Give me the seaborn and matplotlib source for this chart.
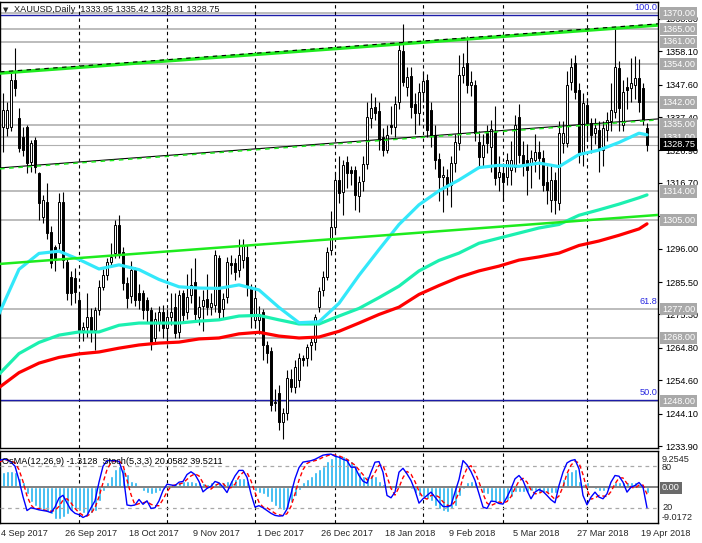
import numpy as np
import pandas as pd
import matplotlib
matplotlib.use("Agg")
import matplotlib.pyplot as plt
import matplotlib.transforms as mtransforms
import seaborn as sns

sns.set_style("white")
plt.rcParams["font.family"] = ["Liberation Sans", "DejaVu Sans"]

# ---- price bars (bar 1 .. 162) ----
bars = np.arange(1, 163)
opens = [
    1334.4, 1333.8, 1334.4, 1349.0, 1337.0, 1331.2, 1334.4, 1323.3, 1330.1, 1319.7,
    1306.0, 1310.8, 1301.3, 1296.6, 1297.7, 1310.8, 1291.9, 1287.2, 1286.7, 1279.8,
    1270.4, 1271.5, 1274.6, 1270.4, 1276.7, 1284.0, 1287.7, 1291.9, 1294.5, 1303.4,
    1295.0, 1285.1, 1281.0, 1289.3, 1281.9, 1281.9, 1279.8, 1276.7, 1267.8, 1272.5,
    1276.2, 1270.9, 1274.6, 1277.8, 1269.9, 1281.9, 1276.2, 1281.4, 1285.4, 1274.6,
    1278.1, 1280.1, 1277.8, 1278.3, 1293.0, 1277.0, 1280.9, 1291.6, 1291.4, 1289.3,
    1292.4, 1293.5, 1283.5, 1273.6, 1273.6, 1276.2, 1265.7, 1263.9, 1247.3, 1250.5,
    1241.6, 1244.2, 1254.9, 1252.6, 1254.7, 1261.5, 1261.5, 1265.7, 1266.7, 1277.8,
    1283.0, 1287.2, 1295.6, 1302.9, 1317.6, 1313.9, 1323.3, 1320.7, 1320.7, 1312.4,
    1317.4, 1322.6, 1337.0, 1340.4, 1339.4, 1331.0, 1327.0, 1334.9, 1334.4, 1342.2,
    1358.3, 1346.9, 1350.3, 1341.5, 1338.6, 1345.4, 1349.0, 1339.6, 1331.7, 1324.1,
    1318.4, 1318.6, 1316.0, 1322.8, 1329.1, 1350.6, 1354.3, 1347.5, 1347.5, 1329.6,
    1324.9, 1332.3, 1328.0, 1332.8, 1318.6, 1319.7, 1318.6, 1320.7, 1321.8, 1337.5,
    1325.4, 1323.9, 1322.8, 1323.9, 1326.5, 1324.4, 1317.0, 1311.3, 1317.6, 1310.2,
    1329.1, 1329.1, 1348.5, 1354.3, 1345.9, 1326.5, 1341.2, 1335.5, 1332.3, 1333.3,
    1327.0, 1333.3, 1336.0, 1339.1, 1352.7, 1334.9, 1346.9, 1346.4, 1347.5, 1349.6,
    1346.4, 1333.95]
highs = [
    1344.8, 1342.2, 1351.1, 1359.1, 1340.1, 1334.4, 1334.9, 1330.1, 1331.0, 1320.2,
    1313.0, 1316.5, 1303.0, 1297.0, 1313.4, 1313.9, 1293.0, 1289.0, 1290.0, 1281.9,
    1273.0, 1281.9, 1277.2, 1277.5, 1286.0, 1289.7, 1293.0, 1297.7, 1305.0, 1306.6,
    1296.6, 1287.0, 1292.0, 1290.3, 1285.0, 1283.0, 1280.9, 1277.7, 1276.0, 1278.0,
    1278.3, 1277.0, 1282.0, 1282.0, 1283.0, 1283.0, 1288.0, 1290.0, 1293.0, 1281.0,
    1283.0, 1288.0, 1282.0, 1295.6, 1294.0, 1282.0, 1293.5, 1294.0, 1293.0, 1299.0,
    1299.0, 1297.0, 1285.0, 1284.0, 1278.0, 1277.0, 1267.0, 1265.0, 1252.0, 1253.0,
    1246.0, 1257.8, 1258.0, 1261.0, 1263.1, 1262.5, 1266.0, 1268.0, 1275.6, 1284.0,
    1289.0, 1296.6, 1307.7, 1320.0, 1325.1, 1324.0, 1325.0, 1322.0, 1322.0, 1319.0,
    1325.0, 1342.0, 1345.0, 1343.8, 1342.0, 1334.0, 1335.0, 1341.0, 1344.0, 1361.0,
    1366.5, 1353.0, 1353.0, 1345.0, 1348.0, 1352.0, 1351.0, 1342.0, 1335.0, 1326.0,
    1322.0, 1321.0, 1325.0, 1332.0, 1357.0, 1357.5, 1363.0, 1352.0, 1349.0, 1333.0,
    1332.0, 1335.0, 1336.5, 1341.0, 1325.0, 1323.0, 1326.0, 1330.0, 1338.0, 1341.5,
    1330.0, 1329.0, 1327.0, 1332.0, 1330.0, 1327.0, 1322.0, 1322.0, 1320.0, 1336.0,
    1336.0, 1352.0, 1356.0, 1357.0, 1348.0, 1345.0, 1343.5, 1337.0, 1337.0, 1336.0,
    1336.0, 1339.0, 1348.0, 1365.5, 1355.0, 1349.0, 1350.0, 1356.0, 1356.5, 1355.5,
    1348.0, 1335.42]
lows = [
    1326.5, 1331.5, 1333.0, 1344.0, 1326.5, 1325.0, 1319.7, 1320.0, 1319.7, 1305.0,
    1304.0, 1299.0, 1290.0, 1289.0, 1296.0, 1290.0, 1280.0, 1278.3, 1279.0, 1268.0,
    1267.0, 1268.3, 1266.7, 1264.1, 1275.0, 1283.0, 1286.0, 1291.0, 1293.0, 1293.0,
    1283.0, 1277.2, 1279.0, 1278.0, 1277.0, 1274.0, 1273.0, 1264.0, 1266.0, 1270.0,
    1268.0, 1266.0, 1272.0, 1268.0, 1268.0, 1273.0, 1274.0, 1279.0, 1273.0, 1272.0,
    1270.0, 1275.0, 1275.0, 1276.0, 1274.0, 1274.0, 1279.0, 1288.0, 1286.0, 1287.0,
    1290.0, 1281.0, 1271.0, 1271.0, 1269.0, 1261.0, 1260.0, 1245.0, 1245.0, 1239.0,
    1236.2, 1242.0, 1251.0, 1250.5, 1252.6, 1259.0, 1259.0, 1261.0, 1264.0, 1276.0,
    1281.0, 1286.0, 1294.0, 1301.0, 1310.5, 1306.6, 1315.0, 1316.0, 1308.0, 1307.5,
    1314.0, 1321.0, 1334.0, 1336.5, 1327.0, 1325.0, 1326.0, 1332.0, 1331.0, 1340.0,
    1347.0, 1344.0, 1337.0, 1332.0, 1335.0, 1342.0, 1331.0, 1328.0, 1321.0, 1311.0,
    1307.5, 1313.0, 1309.0, 1320.0, 1327.0, 1348.0, 1345.0, 1344.0, 1330.0, 1322.0,
    1322.0, 1326.0, 1320.0, 1316.0, 1314.0, 1311.0, 1316.0, 1316.0, 1320.0, 1323.0,
    1319.0, 1313.0, 1315.0, 1320.0, 1318.0, 1314.0, 1310.0, 1307.5, 1307.0, 1308.0,
    1326.0, 1328.0, 1346.0, 1343.0, 1323.0, 1322.0, 1330.0, 1326.0, 1329.0, 1320.0,
    1322.0, 1330.0, 1333.0, 1337.0, 1333.0, 1333.0, 1340.0, 1342.0, 1343.0, 1339.0,
    1335.0, 1326.81]
closes = [
    1339.6, 1339.6, 1349.0, 1346.4, 1327.5, 1327.0, 1322.8, 1329.1, 1321.8, 1310.2,
    1311.3, 1300.8, 1291.4, 1292.4, 1310.8, 1292.4, 1281.9, 1281.9, 1282.5, 1270.4,
    1271.5, 1274.6, 1270.4, 1276.7, 1284.0, 1287.7, 1291.9, 1293.5, 1303.4, 1294.5,
    1285.1, 1280.4, 1289.3, 1279.8, 1279.8, 1276.7, 1276.7, 1266.7, 1274.0, 1276.2,
    1270.9, 1274.4, 1276.2, 1269.6, 1281.4, 1275.1, 1280.9, 1284.6, 1275.4, 1277.8,
    1280.0, 1277.8, 1278.8, 1294.0, 1276.2, 1280.1, 1291.9, 1290.9, 1288.8, 1294.0,
    1297.2, 1284.0, 1275.6, 1280.4, 1275.6, 1265.7, 1263.1, 1246.8, 1247.8, 1241.6,
    1244.2, 1255.2, 1252.6, 1258.9, 1261.5, 1261.0, 1265.2, 1266.7, 1274.6, 1282.8,
    1287.0, 1295.0, 1302.9, 1317.6, 1313.4, 1322.3, 1319.7, 1319.7, 1312.9, 1317.1,
    1322.6, 1337.5, 1340.1, 1338.6, 1330.2, 1327.0, 1331.7, 1334.2, 1341.5, 1358.5,
    1348.5, 1349.9, 1340.4, 1338.6, 1345.4, 1348.8, 1333.3, 1331.7, 1323.9, 1318.6,
    1319.2, 1316.0, 1322.8, 1329.6, 1350.6, 1353.2, 1347.5, 1348.5, 1332.3, 1324.9,
    1328.6, 1329.1, 1333.5, 1318.1, 1320.2, 1317.0, 1323.9, 1323.9, 1334.9, 1325.4,
    1322.3, 1320.7, 1324.4, 1326.5, 1324.4, 1316.0, 1314.4, 1317.6, 1311.3, 1332.3,
    1332.3, 1347.5, 1353.2, 1345.4, 1325.4, 1341.7, 1335.5, 1331.7, 1333.8, 1327.0,
    1333.8, 1336.5, 1339.6, 1353.2, 1340.1, 1345.4, 1345.9, 1348.0, 1349.6, 1342.2,
    1336.5, 1328.75]

# ---- moving averages, read every 5 bars ----
ma_bars = list(range(0, 161, 5)) + [162]
ma_fast = [1275.5, 1289.5, 1294.5, 1295.2, 1292.6, 1289.6, 1290.9, 1289.4, 1286.3, 1284.0,
           1283.6, 1283.5, 1284.6, 1283.0, 1277.5, 1272.7, 1273.0, 1278.8, 1287.6, 1295.7,
           1303.6, 1309.8, 1314.2, 1317.6, 1321.5, 1322.2, 1321.9, 1322.9, 1321.8, 1325.6,
           1327.0, 1329.4, 1332.3, 1331.8]
ma_mid = [1256.5, 1263.0, 1266.5, 1268.8, 1269.8, 1269.8, 1271.9, 1272.6, 1272.6, 1272.6,
          1273.2, 1273.6, 1274.8, 1275.0, 1273.6, 1272.3, 1272.3, 1274.8, 1277.2, 1280.6,
          1284.2, 1289.0, 1292.3, 1294.6, 1297.7, 1299.3, 1300.9, 1302.5, 1303.6, 1306.5,
          1308.2, 1310.0, 1312.0, 1312.9]
ma_slow = [1252.3, 1257.0, 1260.0, 1261.8, 1262.9, 1263.5, 1264.7, 1265.7, 1266.3, 1266.6,
           1267.6, 1267.9, 1269.2, 1269.7, 1268.5, 1267.9, 1268.2, 1270.0, 1272.6, 1275.3,
           1277.6, 1281.6, 1284.4, 1287.0, 1289.0, 1290.5, 1292.4, 1293.4, 1294.6, 1297.0,
           1298.4, 1300.2, 1302.2, 1303.8]

# ---- oscillators (bar 0 .. 162) ----
ind_bars = np.arange(0, 163)
osma = [4.5, 4.0, 4.2, 4.2, 3.8, 2.5, 1.3, -1.7, -3.8, -4.6,
        -5.5, -5.7, -6.3, -6.8, -8.0, -8.0, -7.6, -6.8, -5.9, -5.5,
        -5.9, -6.5, -6.8, -6.5, -5.9, -3.5, -1.0, 1.3, 3.0, 4.6,
        5.5, 4.6, 3.4, 1.7, 1.3, 0.4, -0.8, -1.3, -1.7, -1.3,
        -0.8, -0.4, 0.2, 0.4, 0.8, 1.3, 1.7, 1.7, 1.7, 1.4,
        1.3, 1.1, 1.0, 1.3, 1.1, 1.3, 1.4, 1.7, 1.9, 2.1,
        2.3, 2.3, 1.7, 0.4, -0.8, -1.3, -1.7, -2.5, -3.8, -4.6,
        -5.5, -5.7, -5.1, -3.8, -2.1, -0.6, 1.3, 2.1, 3.0, 3.8,
        4.6, 5.5, 6.8, 7.6, 8.2, 8.2, 8.0, 7.6, 6.8, 5.5,
        3.8, 2.8, 2.8, 3.1, 3.0, 1.7, 0.8, 0.4, -0.4, -0.3,
        0.6, 0.6, 0.4, -0.4, -1.3, -2.1, -2.5, -3.0, -3.4, -4.6,
        -5.5, -5.9, -6.3, -5.5, -4.6, -2.1, -0.3, 1.3, 1.7, 1.4,
        0.1, -1.3, -1.7, -3.4, -3.6, -3.8, -3.6, -3.1, -2.3, -1.1,
        -1.1, -1.1, -1.1, -0.8, -0.8, -1.3, -1.4, -1.4, -1.4, -1.3,
        0.6, 2.1, 3.8, 4.2, 4.6, 1.7, 0.8, 1.3, 0.4, -0.4,
        -0.8, -0.8, -0.4, 0.6, 1.3, 1.3, 1.3, 1.3, 1.3, 1.3,
        0.8, 0.1, -1.3128]
stoch_main = [88, 90, 89.6, 86, 80, 60, 36, 16, 20, 18.6,
              17, 16, 15, 13, 21, 34, 38, 27, 17, 12,
              10, 6, 9, 20, 30, 57, 80, 88, 88, 88,
              87, 70, 24, 23, 24, 32, 25, 30, 19, 20,
              30, 45, 54, 53, 52, 57, 58, 68, 72, 68,
              58, 43, 48, 51, 58, 56, 50, 42, 55, 66,
              74, 74, 64, 40, 21, 23, 20, 16, 12, 9,
              8, 8.5, 18, 40, 62, 78, 86, 87, 88, 90,
              93, 96, 97, 97.5, 94.5, 93, 90, 88, 78.6, 78.6,
              66.6, 58.4, 55.5, 71.4, 85.8, 86.7, 71.4, 37.8, 34.4, 42.6,
              71.4, 77, 69, 59.4, 45, 26.7, 33, 37.8, 42.6, 35.4,
              28.2, 22, 21.4, 23.4, 42.6, 60.8, 88.2, 82, 72.3, 59.4,
              40.2, 21, 19, 29.6, 29.1, 26.2, 25.3, 35.4, 47.4, 61.8,
              66.6, 59.4, 45, 33, 42.6, 46.4, 43.5, 37.8, 31.5, 27.2,
              52.2, 71.4, 84.8, 88.2, 89.6, 76.2, 37.8, 24.3, 35.4, 42.6,
              35.4, 33, 40.2, 57, 66.6, 65.6, 57, 42.6, 49.8, 52.2,
              56.5, 49.8, 20.06]
stoch_signal = [86, 88, 89, 88, 85, 75, 58, 37, 24, 18,
                19, 17, 16, 15, 16, 22, 31, 33, 27, 19,
                13, 9, 8, 12, 20, 36, 56, 75, 85, 88,
                88, 82, 60, 39, 24, 26, 27, 29, 25, 23,
                23, 32, 43, 51, 53, 54, 56, 61, 66, 69,
                66, 56, 50, 47, 52, 55, 55, 49, 49, 54,
                65, 71, 71, 59, 42, 28, 21, 20, 16, 12,
                10, 8.5, 11.5, 22, 40, 60, 75, 84, 87, 88,
                90, 93, 95, 97, 96, 95, 92.5, 90, 85.5, 81.7,
                74.6, 67.9, 60.2, 61.8, 70.9, 81.3, 81.3, 65.3, 47.9, 38.3,
                49.5, 63.7, 72.5, 68.5, 57.8, 43.7, 34.9, 32.5, 37.8, 38.6,
                35.4, 28.5, 23.9, 22.3, 29.1, 42.3, 63.9, 77, 80.8, 71.2,
                57.3, 40.2, 26.7, 23.2, 25.9, 28.3, 26.9, 29, 36, 48.2,
                58.6, 62.6, 57, 45.8, 40.2, 40.7, 44.2, 42.6, 37.6, 32.2,
                37, 50.3, 69.5, 81.5, 87.5, 84.7, 67.9, 46.1, 32.5, 34.1,
                37.8, 37, 36.2, 43.4, 54.6, 63.1, 63.1, 55.1, 49.8, 48.2,
                52.8, 52.8, 39.52]

# ---- levels, trend channel, labels ----
levels = [1370, 1365, 1361, 1354, 1342, 1335, 1331, 1314, 1305, 1277, 1268, 1248]
last_price = 1328.75
fibo_lines = [1369.5, 1248.4]
fibo_text_levels = [1369.5, 1277.0, 1248.4]
fibo_labels = ["100.0", "61.8", "50.0"]
price_ticks = [1368.30, 1358.10, 1347.60, 1337.40, 1326.90, 1316.70, 1306.20,
               1296.00, 1285.50, 1275.30, 1264.80, 1254.60, 1244.10, 1233.90]
hidden_ticks = [1306.20]   # fully covered by the 1305.00 box in the original
chan_bars = [0.25, 164.75]
chan_upper = [1351.2, 1366.3]
chan_mid = [1321.4, 1336.8]
chan_lower = [1291.2, 1306.6]
separators = [20, 42, 64, 84, 106, 126, 147]
date_pos = [0, 16, 32, 48, 64, 80, 96, 112, 128, 144, 160]
date_labels = ["4 Sep 2017", "26 Sep 2017", "18 Oct 2017", "9 Nov 2017", "1 Dec 2017",
               "26 Dec 2017", "18 Jan 2018", "9 Feb 2018", "5 Mar 2018", "27 Mar 2018",
               "19 Apr 2018"]

W, H = 702, 543
FS = 6.6


def px_rect(x0, y0, x1, y1):
    return [x0 / W, 1 - y1 / H, (x1 - x0) / W, (y1 - y0) / H]


fig = plt.figure(figsize=(W / 100, H / 100), dpi=100)
ax = fig.add_axes(px_rect(0, 2, 658, 448))
axo = fig.add_axes(px_rect(0, 451, 658, 523))
XL = (0.25, 164.75)

# horizontal levels
for lv in levels:
    ax.axhline(lv, color="#A9A9A9", lw=1.1, zorder=1)
ax.axhline(last_price, color="#B0B0B0", lw=0.8, zorder=1)
for lv in fibo_lines:
    ax.axhline(lv, color="#1C1CA8", lw=1.0, zorder=1.5)
for s in separators:
    ax.axvline(s, color="black", lw=0.8, ls=(0, (3, 3)), zorder=1.2)
    axo.axvline(s, color="black", lw=0.8, ls=(0, (3, 3)), zorder=1.2)

# candles
o = np.array(opens)
h = np.array(highs)
l = np.array(lows)
c = np.array(closes)
ax.vlines(bars, l, h, color="black", lw=0.8, zorder=4)
up = c >= o
bottom = np.minimum(o, c)
height = np.maximum(np.abs(c - o), 0.3)
ax.bar(bars[up], height[up], bottom=bottom[up], width=0.72, color="white",
       edgecolor="black", linewidth=0.7, zorder=5)
ax.bar(bars[~up], height[~up], bottom=bottom[~up], width=0.72, color="black",
       edgecolor="black", linewidth=0.7, zorder=5)

# moving averages
ma = pd.DataFrame({"bar": ma_bars, "fast": ma_fast, "mid": ma_mid, "slow": ma_slow})
sns.lineplot(data=ma, x="bar", y="slow", ax=ax, color="#FF0000", lw=2.3, zorder=6)
sns.lineplot(data=ma, x="bar", y="mid", ax=ax, color="#1CF0B0", lw=2.3, zorder=6)
sns.lineplot(data=ma, x="bar", y="fast", ax=ax, color="#33E8FA", lw=2.3, zorder=6)

# trend channel
sns.lineplot(x=chan_bars, y=chan_upper, ax=ax, color="#1EEB1E", lw=2.4, zorder=7)
ax.plot(chan_bars, np.array(chan_upper) + 0.4, color="black", lw=0.8,
        ls=(0, (4, 4)), zorder=8)
ax.plot(chan_bars, chan_mid, color="black", lw=0.8, zorder=7)
ax.plot(chan_bars, np.array(chan_mid) - 0.3, color="#1EEB1E", lw=1.1,
        ls=(0, (3, 3)), zorder=8)
sns.lineplot(x=chan_bars, y=chan_lower, ax=ax, color="#1EEB1E", lw=1.8, zorder=7)

# fibo labels
for lv, lab in zip(fibo_text_levels, fibo_labels):
    ax.text(164.6, lv + 0.9, lab, ha="right", va="bottom", color="#2828E0",
            fontsize=FS, zorder=9)

ax.set_xlim(*XL)
ax.set_ylim(1233.3, 1373.57)
ax.set_xticks([])
ax.yaxis.tick_right()
ax.set_yticks(price_ticks)
ax.set_yticklabels(["" if v in hidden_ticks else f"{v:.2f}" for v in price_ticks])
ax.tick_params(axis="y", labelsize=FS, length=3, pad=2, color="black",
               labelcolor="black", direction="out", right=True, left=False)
ax.set_xlabel("")
ax.set_ylabel("")
for sp in ax.spines.values():
    sp.set_color("black")
    sp.set_linewidth(1)

# boxed price labels
trans = mtransforms.blended_transform_factory(fig.transFigure, ax.transData)
for lv in levels:
    fig.text(662 / W, lv, f"{lv:.2f}", transform=trans, color="white", fontsize=FS,
             va="center", ha="left",
             bbox=dict(boxstyle="square,pad=0.18", fc="#A9A9A9", ec="none"))
fig.text(662 / W, last_price, f"{last_price:.2f}", transform=trans, color="white",
         fontsize=FS, va="center", ha="left",
         bbox=dict(boxstyle="square,pad=0.18", fc="black", ec="none"))

# ---- indicator window ----
axo.bar(ind_bars, osma, width=0.75, color="#1EB2F0", zorder=2)
axo.axhline(0, color="#808080", lw=1.4, zorder=2.5)
axo.set_xlim(*XL)
axo.set_ylim(-9.0172, 9.2545)
axo.set_yticks([])
axo.set_xticks(date_pos)
axo.set_xticklabels([])
axo.tick_params(axis="x", length=3, direction="out", color="black")
for sp in axo.spines.values():
    sp.set_color("black")
    sp.set_linewidth(1)

axs = axo.twinx()
axs.set_ylim(-2, 102)
axs.axhline(80, color="#A9A9A9", lw=0.9, ls=(0, (3, 3)), zorder=1)
axs.axhline(20, color="#A9A9A9", lw=0.9, ls=(0, (3, 3)), zorder=1)
st = pd.DataFrame({"bar": ind_bars, "main": stoch_main, "signal": stoch_signal})
sns.lineplot(data=st, x="bar", y="signal", ax=axs, color="#FF0000", lw=1.0,
             linestyle=(0, (3, 2)), zorder=3)
sns.lineplot(data=st, x="bar", y="main", ax=axs, color="#0000FF", lw=1.0, zorder=4)
axs.set_xlim(*XL)
axs.set_yticks([])
axs.set_ylabel("")
axs.set_xlabel("")
axo.set_xlabel("")
for sp in axs.spines.values():
    sp.set_visible(False)

# indicator scale labels
for txt, ypx in [("9.2545", 459), ("80", 467), ("20", 508), ("-9.0172", 518)]:
    fig.text(662 / W, 1 - ypx / H, txt, fontsize=FS, va="center", ha="left")
fig.text(662 / W, 1 - 488 / H, "0.00", fontsize=FS, va="center", ha="left",
         color="white", bbox=dict(boxstyle="square,pad=0.18", fc="#6A6A6A", ec="none"))

# date labels
for pos, lab in zip(date_pos, date_labels):
    xpx = 4 * pos - 1 + 2
    fig.text(xpx / W, 1 - 533 / H, lab, fontsize=FS, va="center", ha="left")

# captions
fig.text(3 / W, 1 - 10 / H, "\u25bc", fontsize=5, va="center", ha="left",
         family="DejaVu Sans")
fig.text(14 / W, 1 - 10 / H, "XAUUSD,Daily  1333.95 1335.42 1326.81 1328.75",
         fontsize=FS, va="center", ha="left", color="#1a1a1a")
fig.text(2 / W, 1 - 461 / H, "OsMA(12,26,9) -1.3128  Stoch(5,3,3) 20.0582 39.5211",
         fontsize=FS, va="center", ha="left", color="black")

fig.savefig("out.png", dpi=100)
